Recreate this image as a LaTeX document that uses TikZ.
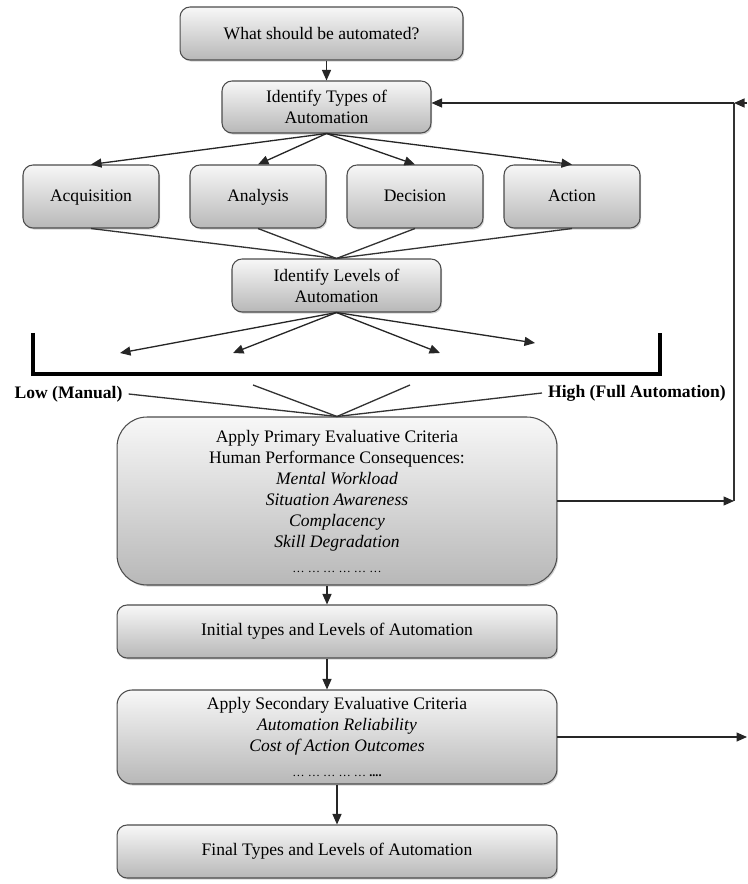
\documentclass[tikz,border=0pt]{standalone}
\usepackage{fontspec}
\setmainfont{Liberation Serif}
\usepackage{tikz}
\usetikzlibrary{arrows.meta,shadows}

\begin{document}
\begin{tikzpicture}[
    x=0.02cm,
    y=-0.02cm,
    every node/.style={font=\fontsize{10}{12}\selectfont},
    stagebox/.style={draw=black!70, line width=0.6pt, rounded corners=0.2cm, top color=black!3, bottom color=black!28, inner sep=0pt, align=center, drop shadow={shadow xshift=0.7pt, shadow yshift=-0.9pt, opacity=0.35}},
    typebox/.style={stagebox, minimum width=2.72cm, minimum height=1.26cm, text height=1.6ex, text depth=0.3ex},
    widebox/.style={stagebox, minimum width=8.8cm},
    scalelabel/.style={font=\fontsize{10}{12}\selectfont\bfseries},
    flow/.style={-{Triangle[length=2.1mm, width=1.8mm]}, line width=0.75pt, draw=black!85},
    link/.style={line width=0.75pt, draw=black!80},
    scalebar/.style={line width=1.8pt, line join=miter}
  ]
  \useasboundingbox (0,0) rectangle (747,884);
  %
  \node[stagebox, minimum width=5.66cm, minimum height=1.06cm] (what) at (321.5,33.5) {What should be automated?};
  \node[stagebox, minimum width=4.18cm, minimum height=1.04cm] (types) at (326.5,107) {Identify Types of\\Automation};

  \node[typebox] (acq) at (91,196.5) {Acquisition};
  \node[typebox] (ana) at (258,196.5) {Analysis};
  \node[typebox] (dec) at (415,196.5) {Decision};
  \node[typebox] (act) at (572,196.5) {Action};

  \node[stagebox, minimum width=4.18cm, minimum height=1.06cm] (levels) at (336.5,285.5) {Identify Levels of\\Automation};

  \node[scalelabel] (low) at (68.5,394) {Low (Manual)};
  \node[scalelabel] (high) at (637,393) {High (Full Automation)};

  \node[widebox, minimum height=3.36cm, rounded corners=0.6cm] (primary) at (337,501) {Apply Primary Evaluative Criteria\\Human Performance Consequences:\\\textit{Mental Workload}\\\textit{Situation Awareness}\\\textit{Complacency}\\\textit{Skill Degradation}\\[2pt]{\scriptsize\ldots\ \ldots\ \ldots\ \ldots\ \ldots\ \ldots}};
  \node[widebox, minimum height=1.06cm] (initial) at (337,631.5) {Initial types and Levels of Automation};
  \node[widebox, minimum height=1.88cm, rounded corners=0.3cm] (secondary) at (337,737) {Apply Secondary Evaluative Criteria\\\textit{Automation Reliability}\\\textit{Cost of Action Outcomes}\\[2pt]{\scriptsize\ldots\ \ldots\ \ldots\ \ldots\ \ldots\ }\textbf{\scriptsize....}};
  \node[widebox, minimum height=1.06cm] (final) at (337,851.5) {Final Types and Levels of Automation};

  %
  \draw[flow] (types.north |- what.south) -- (types.north);
  \draw[flow] (types.south) -- (acq.north);
  \draw[flow] (types.south) -- (ana.north);
  \draw[flow] (types.south) -- (dec.north);
  \draw[flow] (types.south) -- (act.north);
  \draw[link] (acq.south) -- (levels.north);
  \draw[link] (ana.south) -- (levels.north);
  \draw[link] (dec.south) -- (levels.north);
  \draw[link] (act.south) -- (levels.north);

  %
  \coordinate (lv1) at (120,353);
  \coordinate (lv2) at (233,353);
  \coordinate (lv3) at (440,353);
  \coordinate (lv4) at (535,343);
  \draw[flow] (levels.south) -- (lv1);
  \draw[flow] (levels.south) -- (lv2);
  \draw[flow] (levels.south) -- (lv3);
  \draw[flow] (levels.south) -- (lv4);

  \coordinate (barL) at (33,333);
  \coordinate (barR) at (660,333);
  \draw[scalebar] (barL) -- ++(0,41) -| (barR);

  \coordinate (mid1) at (253,385);
  \coordinate (mid2) at (410,385);
  \draw[link] (low.east) -- (primary.north);
  \draw[link] (mid1) -- (primary.north);
  \draw[link] (mid2) -- (primary.north);
  \draw[link] (high.west) -- (primary.north);

  %
  \draw[flow] ([xshift=-0.2cm]primary.south) -- ([xshift=-0.2cm]initial.north);
  \draw[flow] ([xshift=-0.2cm]initial.south) -- ([xshift=-0.2cm]secondary.north);
  \draw[flow] (secondary.south) -- (final.north);

  %
  \coordinate (fbtop) at (734,103);
  \coordinate (fbbot) at (734,501);
  \coordinate (fbin) at (747,103);
  \draw[flow] (primary.east) -- (fbbot);
  \draw[link] (fbbot) -- (fbtop);
  \draw[flow] (fbtop) -- (fbtop -| types.east);
  \draw[flow] (fbin) -- (fbtop);
  \draw[flow] (secondary.east) -- (secondary.east -| fbin);
\end{tikzpicture}
\end{document}
